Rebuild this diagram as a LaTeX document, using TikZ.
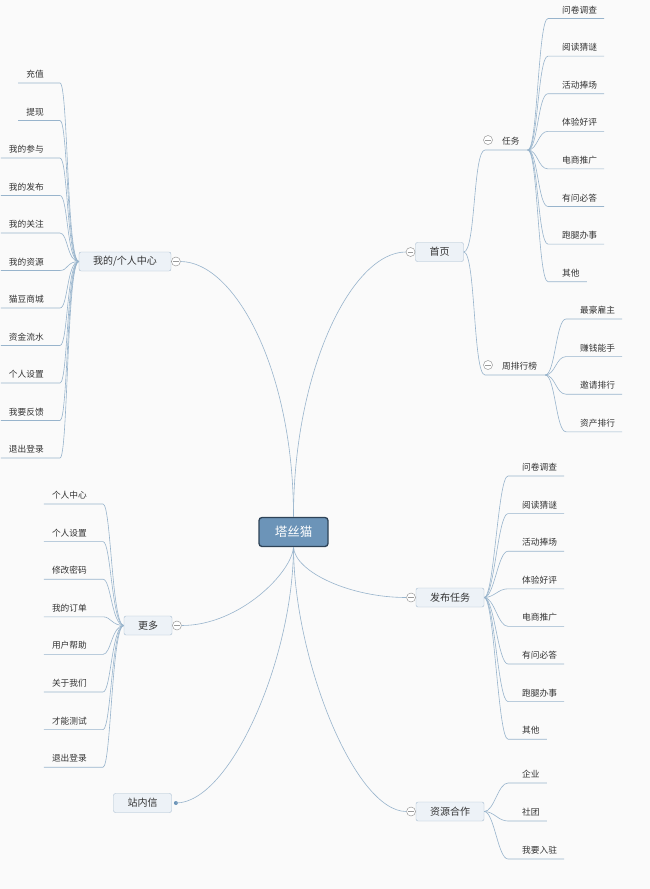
\documentclass[tikz,border=0pt]{standalone}
\usepackage{fontspec}
\setmainfont{Noto Sans CJK SC}
\usepackage{xcolor}
\definecolor{paper}{HTML}{FAFAFA}
\definecolor{linkblue}{HTML}{98B4CC}
\definecolor{topicfill}{HTML}{EDF2F7}
\definecolor{topicline}{HTML}{A7BCD0}
\definecolor{rootfill}{HTML}{6C94B8}
\definecolor{rootline}{HTML}{2E4357}
\definecolor{foldgray}{HTML}{9A9A9A}
\definecolor{inkgray}{HTML}{333333}
\usepackage{tikz}
\usetikzlibrary{positioning}
\newcommand{\leaffont}{\fontsize{8.7pt}{10pt}\selectfont}
\newcommand{\topicfont}{\fontsize{10pt}{12pt}\selectfont}
\newcommand{\rootfont}{\fontsize{12.5pt}{14pt}\selectfont}

\begin{document}
\begin{tikzpicture}[x=1pt, y=-1pt,
  link/.style={draw=linkblue, line width=0.6pt},
  topic/.style={draw=topicline, fill=topicfill, rounded corners=2pt, inner xsep=14pt, inner ysep=0pt, minimum height=19pt, text=inkgray, font=\topicfont},
  rootbox/.style={draw=rootline, fill=rootfill, line width=1.3pt, rounded corners=3pt, minimum width=69pt, minimum height=29pt, text=white, font=\rootfont},
  leafL/.style={anchor=south east, inner xsep=8pt, inner ysep=4.5pt, text=inkgray, font=\leaffont},
  leafR/.style={anchor=south west, inner xsep=7pt, inner ysep=4.5pt, text=inkgray, font=\leaffont},
  fold/.style={circle, draw=foldgray, fill=white, line width=0.5pt, minimum size=9pt, inner sep=0pt,
    path picture={\draw[foldgray, line width=0.5pt] ([xshift=-2.6pt]path picture bounding box.center) -- ([xshift=2.6pt]path picture bounding box.center);}},
  enddot/.style={circle, fill=rootfill, minimum size=4pt, inner sep=0pt}]

  \fill[paper] (0,0) rectangle (650,889);
  \useasboundingbox (0,0) rectangle (650,889);

  % --- Root ---
  \node[rootbox] (root) at (293.5,532) {塔丝猫};

  % --- Main topics ---
  \node[topic] (mine) at (125,261.5) {我的/个人中心};
  \node[topic] (home) at (439.5,252) {首页};
  \node[topic] (publish) at (450,597.5) {发布任务};
  \node[topic] (coop) at (450,811.5) {资源合作};
  \node[topic] (more) at (148,625.5) {更多};
  \node[topic] (mail) at (142.5,803) {站内信};

  \node[fold, right=0pt of mine] (mineC) {};
  \node[fold, left=0pt of home] (homeC) {};
  \node[fold, left=0pt of publish] (pubC) {};
  \node[fold, left=0pt of coop] (coopC) {};
  \node[fold, right=0pt of more] (moreC) {};
  \node[enddot, right=2pt of mail] (mailC) {};

  % Root to main topics
  \draw[link] (root.north) .. controls (293.5,370) and (235,262) .. (mineC.east);
  \draw[link] (root.north) .. controls (293.5,370) and (352,252) .. (homeC.west);
  \draw[link] (root.south) .. controls (292,572) and (240,625.5) .. (moreC.east);
  \draw[link] (root.south) .. controls (295,572) and (350,597.5) .. (pubC.west);
  \draw[link] (root.south) .. controls (293,660) and (230,803) .. (mailC.center);
  \draw[link] (root.south) .. controls (294,660) and (355,811.5) .. (coopC.west);

  % --- 首页: sub topics ---
  \node[leafR, inner xsep=8pt] (task) at (494,150) {任务};
  \node[leafR, inner xsep=8pt] (rank) at (494,375) {周排行榜};
  \node[fold] (taskC) at (488,140) {};
  \node[fold] (rankC) at (488,365) {};
  \draw[link] (home.east) .. controls +(12,0) and +(-12,0) .. ([xshift=-9pt]task.south west) -- (task.south east);
  \draw[link] (home.east) .. controls +(12,0) and +(-12,0) .. ([xshift=-9pt]rank.south west) -- (rank.south east);

  \foreach \lbl [count=\i] in {问卷调查,阅读猜谜,活动捧场,体验好评,电商推广,有问必答,跑腿办事,其他}{
    \node[leafR] (task\i) at (555,{18.5+37.6*(\i-1)}) {\lbl};
    \draw[link] (task.south east) .. controls +(10,0) and +(-10,0) .. ([xshift=-7pt]task\i.south west) -- (task\i.south east);
  }
  \foreach \lbl [count=\i] in {最豪雇主,赚钱能手,邀请排行,资产排行}{
    \node[leafR] (rank\i) at (573,{319+37.6*(\i-1)}) {\lbl};
    \draw[link] (rank.south east) .. controls +(10,0) and +(-10,0) .. ([xshift=-7pt]rank\i.south west) -- (rank\i.south east);
  }

  % --- 我的/个人中心 ---
  \foreach \lbl [count=\i] in {充值,提现,我的参与,我的发布,我的关注,我的资源,猫豆商城,资金流水,个人设置,我要反馈,退出登录}{
    \node[leafL] (mine\i) at (52,{83+37.5*(\i-1)}) {\lbl};
    \draw[link] (mine\i.south west) -- ([xshift=8pt]mine\i.south east) .. controls +(8,0) and +(-12,0) .. (mine.west);
  }

  % --- 发布任务 ---
  \foreach \lbl [count=\i] in {问卷调查,阅读猜谜,活动捧场,体验好评,电商推广,有问必答,跑腿办事,其他}{
    \node[leafR] (pub\i) at (515,{476+37.6*(\i-1)}) {\lbl};
    \draw[link] (publish.east) .. controls +(10,0) and +(-10,0) .. ([xshift=-7pt]pub\i.south west) -- (pub\i.south east);
  }

  % --- 资源合作 ---
  \foreach \lbl [count=\i] in {企业,社团,我要入驻}{
    \node[leafR] (coop\i) at (515,{783+38*(\i-1)}) {\lbl};
    \draw[link] (coop.east) .. controls +(10,0) and +(-10,0) .. ([xshift=-7pt]coop\i.south west) -- (coop\i.south east);
  }

  % --- 更多 ---
  \foreach \lbl [count=\i] in {个人中心,个人设置,修改密码,我的订单,用户帮助,关于我们,才能测试,退出登录}{
    \node[leafL] (more\i) at (95,{504+37.6*(\i-1)}) {\lbl};
    \draw[link] (more\i.south west) -- ([xshift=8pt]more\i.south east) .. controls +(8,0) and +(-12,0) .. (more.west);
  }
\end{tikzpicture}
\end{document}
